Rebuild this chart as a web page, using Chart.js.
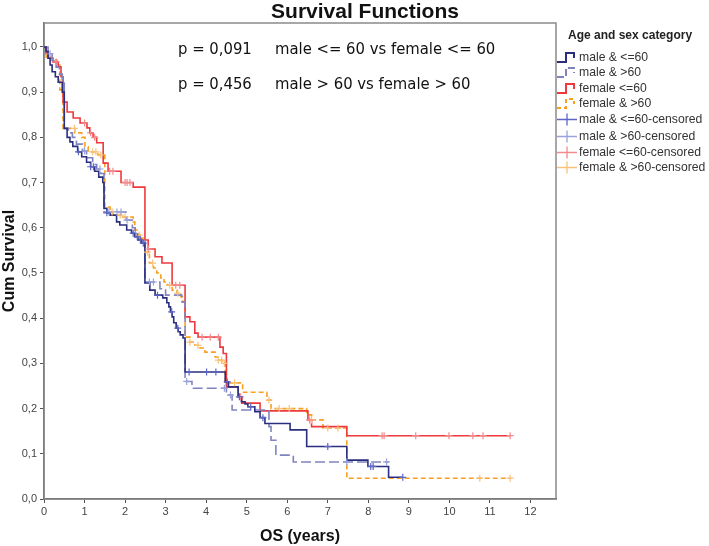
<!DOCTYPE html>
<html>
<head>
<meta charset="utf-8">
<script src="https://cdn.jsdelivr.net/npm/chart.js@4.4.1/dist/chart.umd.min.js"></script>
<style>
  body { margin: 0; background: #fff; }
  #wrap { position: relative; width: 709px; height: 546px; overflow: hidden; }
  #chart { position: absolute; left: 0; top: 0; }
  .txt { position: absolute; white-space: nowrap; color: #111; }
  .title { font: bold 21px "Liberation Sans", Arial, sans-serif; transform: translate(-50%, -50%); }
  .ptxt { font: 16.5px "DejaVu Sans Condensed", "DejaVu Sans", Verdana, sans-serif; transform: translateY(-50%); }
  .lgtitle { font: bold 12px "Liberation Sans", Arial, sans-serif; color: #222; transform: translateY(-50%); }
  .lgrow { position: absolute; left: 557px; height: 14px; transform: translateY(-50%); font: 12.2px "Liberation Sans", Arial, sans-serif; color: #333; white-space: nowrap; }
  .lgrow svg { position: absolute; left: 0; top: 0; }
  .lgrow span { position: absolute; left: 22px; top: 0; line-height: 14px; }
</style>
</head>
<body>
<div id="wrap">
  <canvas id="chart" width="709" height="546"></canvas>
  <div class="txt title" style="left:365px;top:11px">Survival Functions</div>
  <div class="txt ptxt" style="left:178px;top:48px">p = 0,091</div>
  <div class="txt ptxt" style="left:275px;top:48px">male &lt;= 60 vs female &lt;= 60</div>
  <div class="txt ptxt" style="left:178px;top:83px">p = 0,456</div>
  <div class="txt ptxt" style="left:275px;top:83px">male &gt; 60 vs female &gt; 60</div>
  <div class="txt lgtitle" style="left:568px;top:35px">Age and sex category</div>
  <div id="legend"></div>
</div>
<script>
// Kaplan-Meier curves: time (years) and cumulative survival after each step
const maleLe60Time = [0, 0.05, 0.1, 0.15, 0.2, 0.28, 0.35, 0.45, 0.5, 0.57, 0.64, 0.71, 0.83, 0.93, 1.05, 1.15, 1.25, 1.35, 1.45, 1.48,
  1.55, 1.63, 1.79, 1.87, 2.04, 2.16, 2.24, 2.32, 2.41, 2.49, 2.61, 2.74, 2.93, 3.03, 3.08, 3.12, 3.16, 3.2, 3.26, 3.31,
  3.36, 3.43, 3.48, 4.47, 4.55, 4.79, 4.87, 4.96, 5.03, 5.2, 5.33, 5.45, 6.07, 6.48, 7.47, 7.99, 8.5, 8.85];
const maleLe60Surv = [1.0, 0.99, 0.975, 0.96, 0.945, 0.934, 0.922, 0.90, 0.82, 0.80, 0.79, 0.78, 0.768, 0.757, 0.745, 0.735, 0.725, 0.712, 0.70, 0.643,
  0.633, 0.628, 0.613, 0.606, 0.595, 0.588, 0.58, 0.573, 0.566, 0.478, 0.462, 0.451, 0.445, 0.434, 0.425, 0.414, 0.403, 0.39, 0.378, 0.37,
  0.363, 0.356, 0.281, 0.259, 0.248, 0.226, 0.215, 0.21, 0.204, 0.193, 0.18, 0.167, 0.153, 0.116, 0.086, 0.072, 0.048, 0.048];

const maleGt60Time = [0, 0.1, 0.2, 0.3, 0.38, 0.45, 0.5, 0.6, 0.7, 0.8, 0.95, 1.05, 1.2, 1.3, 1.4, 1.48, 2.02, 2.18, 2.25, 2.35,
  2.49, 2.86, 3.0, 3.4, 3.48, 3.65, 4.5, 4.64, 5.55, 5.6, 5.72, 6.15, 8.5];
const maleGt60Surv = [1.0, 0.985, 0.97, 0.955, 0.94, 0.92, 0.82, 0.81, 0.80, 0.785, 0.77, 0.755, 0.74, 0.73, 0.72, 0.635, 0.617, 0.60, 0.585, 0.575,
  0.48, 0.465, 0.451, 0.436, 0.26, 0.245, 0.23, 0.197, 0.16, 0.13, 0.097, 0.082, 0.082];

const femaleLe60Time = [0, 0.05, 0.1, 0.22, 0.35, 0.42, 0.47, 0.57, 0.72, 0.89, 1.06, 1.13, 1.21, 1.3, 1.46, 1.58, 1.9, 2.2, 2.49, 2.57,
  2.74, 2.91, 3.16, 3.48, 3.6, 3.72, 3.8, 4.34, 4.42, 4.5, 4.79, 4.88, 5.33, 6.51, 6.6, 7.47, 11.5];
const femaleLe60Surv = [1.0, 0.987, 0.975, 0.967, 0.956, 0.934, 0.878, 0.856, 0.843, 0.832, 0.821, 0.81, 0.80, 0.788, 0.743, 0.725, 0.70, 0.69, 0.573, 0.553,
  0.536, 0.522, 0.473, 0.403, 0.392, 0.367, 0.358, 0.336, 0.322, 0.248, 0.226, 0.212, 0.195, 0.175, 0.16, 0.14, 0.14];

const femaleGt60Time = [0, 0.05, 0.15, 0.27, 0.32, 0.39, 0.47, 0.76, 0.93, 1.01, 1.09, 1.33, 1.5, 1.63, 1.7, 1.92, 2.2, 2.24, 2.32, 2.37,
  2.44, 2.49, 2.6, 2.7, 2.78, 2.88, 2.96, 3.04, 3.16, 3.28, 3.38, 3.42, 3.48, 3.6, 3.72, 3.85, 3.97, 4.22, 4.29, 4.39,
  4.47, 4.9, 5.5, 5.6, 6.48, 6.6, 6.88, 7.47, 11.5];
const femaleGt60Surv = [1.0, 0.978, 0.975, 0.971, 0.96, 0.905, 0.82, 0.81, 0.80, 0.779, 0.768, 0.761, 0.646, 0.635, 0.628, 0.624, 0.613, 0.595, 0.584, 0.577,
  0.573, 0.546, 0.522, 0.511, 0.50, 0.489, 0.48, 0.473, 0.462, 0.455, 0.447, 0.436, 0.358, 0.347, 0.34, 0.334, 0.325, 0.314, 0.307, 0.30,
  0.257, 0.236, 0.219, 0.20, 0.186, 0.175, 0.157, 0.046, 0.046];

// censoring times (years)
const maleLe60Cens = [0.85, 1.15, 1.22, 1.55, 2.2, 2.3, 2.38, 2.45, 2.8, 3.15, 3.3, 3.58, 4.01, 4.24, 4.52, 4.82, 5.1, 5.4, 7.0, 8.06, 8.12, 8.85];
const maleGt60Cens = [0.15, 1.0, 1.38, 1.6, 1.8, 1.9, 2.05, 2.6, 2.7, 3.52, 4.45, 4.6, 7.47, 8.45];
const femaleLe60Cens = [0.3, 1.0, 1.15, 1.25, 1.62, 1.7, 2.0, 2.05, 2.12, 2.58, 3.25, 3.35, 3.9, 4.1, 4.3, 4.85, 6.55, 8.34, 8.39, 9.17, 9.99, 10.58, 10.83, 11.5];
const femaleGt60Cens = [0.75, 1.2, 1.28, 1.4, 1.68, 1.88, 2.0, 2.35, 2.55, 2.68, 3.1, 3.3, 3.6, 3.8, 4.3, 4.38, 4.45, 4.7, 5.55, 5.8, 6.05, 6.6, 7.0, 7.25, 10.75, 11.5];

const xTicks = [0, 1, 2, 3, 4, 5, 6, 7, 8, 9, 10, 11, 12];
const yTicks = [0, 0.1, 0.2, 0.3, 0.4, 0.5, 0.6, 0.7, 0.8, 0.9, 1.0];

const groupNames = ['male & <=60', 'male & >60', 'female <=60', 'female & >60'];
const lineColors = ['#2a2e7f', '#7f84bf', '#ee3a3c', '#f7a11f'];
const censColors = ['#5e66c4', '#9aa2de', '#f38a8d', '#f8c27c'];
const dashes = [[], [10, 4], [], [5, 3]];

const curveTimes = [maleLe60Time, maleGt60Time, femaleLe60Time, femaleGt60Time];
const curveSurv = [maleLe60Surv, maleGt60Surv, femaleLe60Surv, femaleGt60Surv];
const censTimes = [maleLe60Cens, maleGt60Cens, femaleLe60Cens, femaleGt60Cens];

// survival value of a step curve at time t
function survAt(times, surv, t) {
  let s = surv[0];
  for (let i = 0; i < times.length; i++) {
    if (times[i] <= t) s = surv[i];
  }
  return s;
}

const datasets = [];
curveTimes.forEach((times, g) => {
  datasets.push({
    type: 'line',
    label: groupNames[g],
    data: times.map((t, i) => ({ x: t, y: curveSurv[g][i] })),
    stepped: true,
    borderColor: lineColors[g],
    borderWidth: 1.6,
    borderDash: dashes[g],
    pointRadius: 0,
    fill: false,
    order: 2
  });
});
censTimes.forEach((times, g) => {
  datasets.push({
    type: 'scatter',
    label: groupNames[g] + '-censored',
    data: times.map(t => ({ x: t, y: survAt(curveTimes[g], curveSurv[g], t) })),
    pointStyle: 'cross',
    pointRadius: 3.5,
    borderColor: censColors[g],
    borderWidth: 1.2,
    order: 1
  });
});

const framePlugin = {
  id: 'frame',
  beforeDatasetsDraw(chart) {
    const a = chart.chartArea;
    const ctx = chart.ctx;
    ctx.save();
    ctx.strokeStyle = '#8a8a8a';
    ctx.lineWidth = 1.5;
    ctx.strokeRect(a.left, a.top, a.right - a.left, a.bottom - a.top);
    ctx.restore();
  }
};

new Chart(document.getElementById('chart'), {
  data: { datasets: datasets },
  plugins: [framePlugin],
  options: {
    responsive: false,
    animation: false,
    devicePixelRatio: 1,
    layout: { padding: { top: 23, right: 153, left: 0, bottom: 0 } },
    plugins: { legend: { display: false }, tooltip: { enabled: false } },
    scales: {
      x: {
        type: 'linear',
        min: 0,
        max: 12.63,
        afterBuildTicks: s => { s.ticks = xTicks.map(v => ({ value: v })); },
        afterFit: s => { s.height = 47; },
        ticks: { color: '#444', padding: 2, font: { family: 'Liberation Sans, Arial', size: 11 } },
        grid: { drawOnChartArea: false, drawTicks: true, tickLength: 4, color: '#555' },
        border: { display: true, color: '#555', width: 1.5 },
        title: { display: true, text: 'OS (years)', color: '#111', padding: 0, font: { family: 'Liberation Sans, Arial', size: 16, weight: 'bold' } }
      },
      y: {
        type: 'linear',
        min: 0,
        max: 1.053,
        afterBuildTicks: s => { s.ticks = yTicks.map(v => ({ value: v })); },
        afterFit: s => { s.width = 44; },
        ticks: {
          color: '#444', padding: 3, font: { family: 'Liberation Sans, Arial', size: 11 },
          callback: v => v.toFixed(1).replace('.', ',')
        },
        grid: { drawOnChartArea: false, drawTicks: true, tickLength: 4, color: '#555' },
        border: { display: true, color: '#555', width: 1.5 },
        title: { display: true, text: 'Cum Survival', color: '#111', padding: 0, font: { family: 'Liberation Sans, Arial', size: 16, weight: 'bold' } }
      }
    }
  }
});

// legend: four survival lines then four censor markers
const legendTops = [57, 72, 88, 103, 119, 136, 152, 167];
const legend = document.getElementById('legend');
legendTops.forEach((top, i) => {
  const g = i % 4;
  const isCens = i >= 4;
  const row = document.createElement('div');
  row.className = 'lgrow';
  row.style.top = top + 'px';
  let icon;
  if (isCens) {
    icon = `<svg width="22" height="14"><path d="M0 7.5 H20 M10 1.5 V13.5" stroke="${censColors[g]}" stroke-width="1.3" fill="none"/></svg>`;
  } else {
    const da = dashes[g].length ? `stroke-dasharray="${g === 1 ? '7,3' : '4,3'}"` : '';
    icon = `<svg width="22" height="14"><path d="M0 12 H9 V3 H17 V8" stroke="${lineColors[g]}" stroke-width="2" fill="none" ${da}/></svg>`;
  }
  row.innerHTML = icon + `<span>${isCens ? groupNames[g] + '-censored' : groupNames[g]}</span>`.replace(/&(?!amp;)/g, '&amp;');
  legend.appendChild(row);
});
</script>
</body>
</html>
